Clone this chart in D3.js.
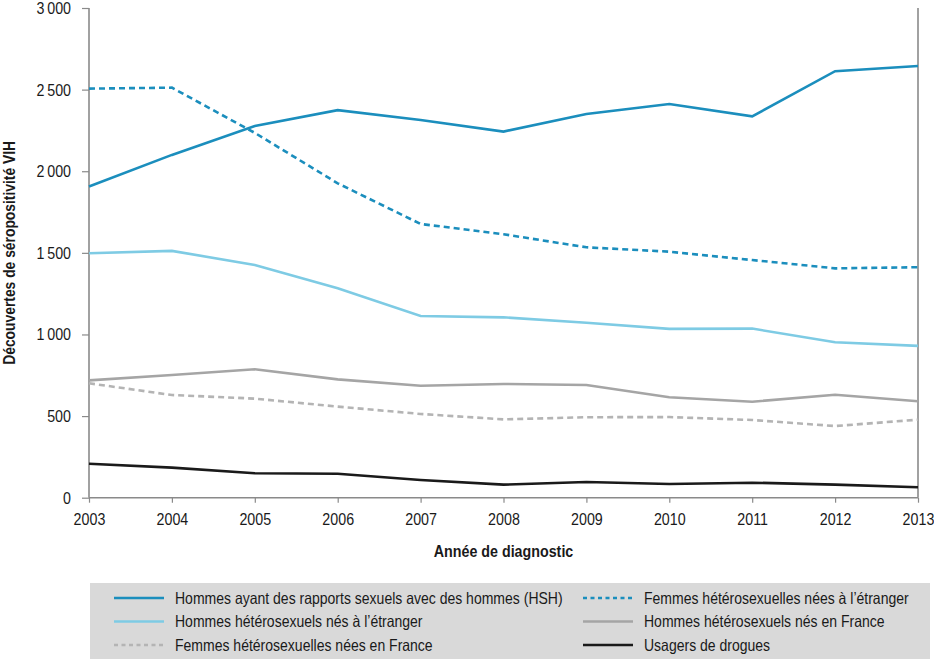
<!DOCTYPE html>
<html>
<head>
<meta charset="utf-8">
<script src="https://cdn.jsdelivr.net/npm/d3@7"></script>
<style>
  body { margin: 0; background: #fff; }
  svg text { font-family: "Liberation Sans", Arial, sans-serif; fill: #1a1a1a; }
</style>
</head>
<body>
<div id="chart"></div>
<script>
// data
const years = [2003, 2004, 2005, 2006, 2007, 2008, 2009, 2010, 2011, 2012, 2013];
const hsh = [1906, 2100, 2277, 2374, 2314, 2243, 2351, 2412, 2336, 2613, 2645];
const femmesEtranger = [2506, 2512, 2235, 1926, 1677, 1614, 1534, 1507, 1456, 1405, 1412];
const hommesEtranger = [1498, 1512, 1426, 1283, 1113, 1105, 1072, 1034, 1036, 952, 930];
const hommesFrance = [719, 752, 787, 725, 686, 697, 690, 615, 588, 631, 591];
const femmesFrance = [701, 629, 607, 558, 513, 480, 493, 494, 476, 439, 478];
const usagers = [208, 184, 150, 147, 108, 80, 96, 84, 92, 80, 64];
const yTicks = [0, 500, 1000, 1500, 2000, 2500, 3000];

const series = [
  { name: "Hommes ayant des rapports sexuels avec des hommes (HSH)", values: hsh, color: "#1b8ebd", dash: null },
  { name: "Femmes hétérosexuelles nées à l\u2019étranger", values: femmesEtranger, color: "#1b8ebd", dash: "6,4" },
  { name: "Hommes hétérosexuels nés à l\u2019étranger", values: hommesEtranger, color: "#7ecbe4", dash: null },
  { name: "Hommes hétérosexuels nés en France", values: hommesFrance, color: "#a5a5a5", dash: null },
  { name: "Femmes hétérosexuelles nées en France", values: femmesFrance, color: "#b4b4b4", dash: "6,4" },
  { name: "Usagers de drogues", values: usagers, color: "#1a1a1a", dash: null }
];

const width = 934, height = 659;
const margin = { top: 8, right: 16, bottom: 161, left: 89 };
const squeeze = 0.84; // condensed look, no narrow font installed

const svg = d3.select("#chart").append("svg")
  .attr("width", width)
  .attr("height", height);

const x = d3.scaleLinear()
  .domain([years[0], years[years.length - 1]])
  .range([margin.left, width - margin.right]);

const y = d3.scaleLinear()
  .domain([0, 3000])
  .range([497.7, margin.top]);

const fmt = v => d3.format(",")(v).replace(/,/g, "\u2009");

// axes
const xAxis = svg.append("g")
  .attr("transform", `translate(0,${y(0)})`)
  .call(d3.axisBottom(x).tickValues(years).tickFormat(d3.format("d")).tickSize(5).tickPadding(10));

const yAxis = svg.append("g")
  .attr("transform", `translate(${margin.left},0)`)
  .call(d3.axisLeft(y).tickValues(yTicks).tickFormat(fmt).tickSize(7).tickPadding(11));

[xAxis, yAxis].forEach(g => {
  g.select(".domain").attr("stroke", "#8a8a8a").attr("stroke-width", 1.6);
  g.selectAll(".tick line").attr("stroke", "#8a8a8a").attr("stroke-width", 1.2);
  g.selectAll(".tick text")
    .attr("font-size", 17)
    .attr("font-family", "\"Liberation Sans\", Arial, sans-serif")
    .style("fill", "#1a1a1a")
    .attr("transform", `scale(${squeeze},1)`)
    .attr("x", function() { return +d3.select(this).attr("x") / squeeze || 0; });
});
xAxis.select(".domain").attr("d", `M${x.range()[0]},0H${x.range()[1]}`);
yAxis.select(".domain").attr("d", `M0,${y(3000)}V${y(0)}`);

// right frame line
svg.append("line")
  .attr("x1", x(years[years.length - 1])).attr("x2", x(years[years.length - 1]))
  .attr("y1", y(3000)).attr("y2", y(0))
  .attr("stroke", "#8a8a8a").attr("stroke-width", 1.6);

// lines
const line = d3.line()
  .x((d, i) => x(years[i]))
  .y(d => y(d));

const drawOrder = [5, 4, 3, 2, 1, 0];
svg.append("g").selectAll("path")
  .data(drawOrder.map(i => series[i]))
  .enter()
  .append("path")
  .attr("d", d => line(d.values))
  .attr("fill", "none")
  .attr("stroke", d => d.color)
  .attr("stroke-width", 2.6)
  .attr("stroke-dasharray", d => d.dash);

// axis titles
svg.append("text")
  .attr("transform", `translate(15,${(y(0) + y(3000)) / 2}) rotate(-90) scale(${squeeze},1)`)
  .attr("text-anchor", "middle")
  .attr("font-size", 16.5)
  .attr("font-weight", "bold")
  .text("Découvertes de séropositivité VIH");

svg.append("text")
  .attr("transform", `translate(${(x.range()[0] + x.range()[1]) / 2},557) scale(${squeeze},1)`)
  .attr("text-anchor", "middle")
  .attr("font-size", 17)
  .attr("font-weight", "bold")
  .text("Année de diagnostic");

// legend
const legend = svg.append("g");
legend.append("rect")
  .attr("x", 90).attr("y", 583)
  .attr("width", 840).attr("height", 76)
  .attr("fill", "#d9d9d9");

const legendPos = [
  { col: 0, row: 0 }, { col: 1, row: 0 },
  { col: 0, row: 1 }, { col: 1, row: 1 },
  { col: 0, row: 2 }, { col: 1, row: 2 }
];
const colX = [114, 583];
const rowY = [598, 621.5, 645];

const items = legend.selectAll(".item")
  .data(series)
  .enter()
  .append("g")
  .attr("class", "item")
  .attr("transform", (d, i) => `translate(${colX[legendPos[i].col]},${rowY[legendPos[i].row]})`);

items.append("line")
  .attr("x1", 0).attr("x2", 50)
  .attr("y1", 0).attr("y2", 0)
  .attr("stroke", d => d.color)
  .attr("stroke-width", 2.6)
  .attr("stroke-dasharray", d => d.dash ? "4,3.5" : null);

items.append("text")
  .attr("transform", `translate(61,0) scale(0.86,1)`)
  .attr("dy", "0.35em")
  .attr("font-size", 16.3)
  .text(d => d.name);
</script>
</body>
</html>
